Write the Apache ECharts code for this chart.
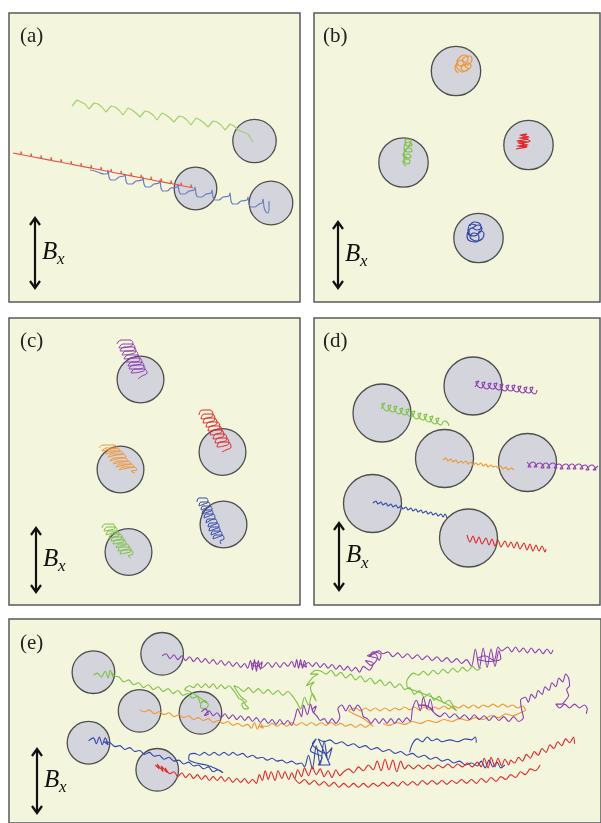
<!DOCTYPE html>
<html><head><meta charset="utf-8">
<script src="https://cdn.jsdelivr.net/npm/echarts@6/dist/echarts.min.js"></script>
<style>html,body{margin:0;padding:0;background:#fff}#c{width:601px;height:823px}</style>
</head><body><div id="c"></div>
<script>
// ---------- panel labels ----------
const panelLabels = ['(a)', '(b)', '(c)', '(d)', '(e)'];
const fieldSymbol = 'B';
const fieldSub = 'x';

// ---------- circles [cx, cy, r] in picture units ----------
const circlesA = [[254.5,141,21.7],[195.5,188.5,21.3],[271,203,21.8]];
const circlesB = [[456,71,24.7],[528.5,145,24.7],[403.5,162.5,24.7],[478.5,238,24.7]];
const circlesC = [[140.5,379.5,23.4],[222.5,452,23.4],[120.5,469.5,23.4],[223.5,524.5,23.4],[128.5,552,23.4]];
const circlesD = [[473,386,29],[382,413,29],[444.5,458.5,29],[527.5,462.5,29],[372.5,503.5,29],[468.5,538,29]];
const circlesE = [[165,655,21.7],[95,674,21.7],[142,714,21.7],[204,716,21.7],[90,747,21.7],[160,775,21.7]];

// ---------- trajectories (flat x,y lists; null = gap) ----------
// panel (a)
const aGreen = [72,106,77,100,81,102,85,104,89,109,94,103,98,104,102,107,106,112,111,106,115,107,119,110,123,115,128,108,132,110,136,113,140,117,145,111,149,112,153,115,157,120,162,113,166,115,170,118,174,122,179,116,183,117,187,120,191,125,196,118,200,120,204,123,208,127,213,121,217,122,221,125,225,130,230,124,234,126,238,130,243,132,248,134,253,142];
const aRed = [13,153,21,154.6,21,151.5,22,154.8,23,155,31,156.5,31,153.4,32,156.7,33,157,41,158.4,41,155.3,42,158.6,43,158.8,51,160.4,51,157.2,52,160.6,53,160.8,61,162.3,61,159.2,62,162.5,63,162.7,71,164.3,71,161.1,72,164.4,73,164.6,81,166.2,81,163,82,166.4,83,166.6,91,168.1,91,165,92,168.3,93,168.5,101,170,101,167,102,170.3,103,170.5,111,172,111,168.9,112,172.2,113,172.4,121,174,121,170.8,122,174.1,123,174.3,131,175.9,131,172.7,132,176.1,133,176.3,141,177.8,141,174.7,142,178,143,178.2,151,179.8,151,176.6,152,180,153,180.2,161,181.7,161,178.5,162,181.9,163,182.1,171,183.6,171,180.5,172,183.8,173,184,181,185.6,181,182.4,182,185.8,183,186,191,187.5,191,184.4,192,187.7,193,188];
const aBlue = [90,170,95,171,100,173,104,174,107,174,108,170,109,177,111,180,115,180,119,177,124,176,125,174,126,181,128,184,132,184,136,181,142,180,143,177,144,184,146,187,150,187,154,184,159,183,160,180,161,188,163,191,167,191,171,188,177,187,178,184,179,191,181,194,185,194,189,191,194,190,195,187,196,194,198,197,202,197,206,194,211,193,212,190,213,197,215,200,219,200,223,197,229,196,230,193,231,201,233,204,237,204,241,201,247,200,248,197,249,204,251,207,255,207,259,204,262,203,263,199,264,207,266,212,268,213,269,206,269,201];
// panel (b)
const bOrange = [458,73,455,68,457,63,461,60,464,63,460,66,457,62,460,57,464,55,468,58,466,62,462,61,465,57,470,56,472,60,469,64,465,66,468,69,464,71,461,68,464,65,468,63,471,66,467,70,462,72,459,70,456,66,459,64];
const bRed = [516,149,526,147,517,146,528,145,518,143,529,142,517,141,528,139,519,138,529,137,520,135,527,134,523,137,530,141,522,144,527,147,519,148];
const bGreen = [406,166,403,162,406,159,410,161,408,164,404,160,404,156,408,154,411,157,407,158,404,153,406,149,410,148,412,151,408,152,404,148,405,144,409,142,412,145,408,146,405,142,407,139,411,140,410,144,406,150,403,155,407,157];
const bBlue = [470,226,474,222,479,223,481,227,477,230,472,228,469,232,472,236,477,235,480,231,484,234,482,239,477,241,473,240,470,237,474,233,479,237,476,242,470,241,467,236,469,230,474,227,478,225,482,229,479,233,474,236,468,233,471,224,476,225];
// panel (c)
const cPurple = [117,344,121,340,130,340,133,344,128,347,119,348,123,344,132,344,135,348,130,351,120,351,124,347,133,347,136,351,131,354,122,355,126,351,135,351,138,355,133,358,124,359,128,355,137,355,140,359,135,362,126,362,130,358,139,358,142,362,137,365,128,366,132,362,141,362,144,366,139,369,129,369,133,365,142,365,145,369,140,372,131,373,135,369,144,369,147,373,142,376,138,379];
const cRed = [199,415,202,410,210,410,213,415,208,418,201,419,204,414,212,414,215,419,210,422,203,423,206,418,214,418,217,423,212,426,206,427,209,422,217,422,220,427,215,430,208,431,211,426,219,426,222,431,217,434,210,435,213,430,221,430,224,435,219,438,213,439,216,434,224,434,227,439,222,442,215,443,218,438,226,438,229,443,224,446,217,447,220,442,228,442,231,447,226,450,222,452];
const cOrange = [99,448,103,445,114,445,117,448,111,449,102,451,106,448,117,448,120,451,114,452,105,454,109,451,120,451,123,454,117,455,108,457,112,454,123,454,126,457,120,458,110,461,114,458,125,458,128,461,122,462,113,464,117,461,128,461,131,464,125,465,116,467,120,464,131,464,134,467,128,468,119,470,123,467,134,467,137,470,131,471,135,473];
const cBlue = [197,502,199,498,206,498,208,502,204,504,199,506,201,502,208,502,210,506,206,508,201,510,203,506,210,506,212,510,208,512,202,514,204,510,211,510,213,514,209,516,204,518,206,514,213,514,215,518,211,520,206,523,208,519,215,519,217,523,213,525,208,527,210,523,217,523,219,527,215,529,209,531,211,527,218,527,220,531,216,533,211,535,213,531,220,531,222,535,218,537,213,539,215,535,222,535,224,539,220,541,221,544];
const cGreen = [102,528,105,524,113,524,115,528,110,530,104,531,107,527,115,527,117,531,112,533,106,535,109,531,117,531,119,535,114,537,109,538,112,534,120,534,122,538,117,540,111,541,114,537,122,537,124,541,119,543,113,544,116,540,124,540,126,544,121,546,116,548,119,544,127,544,129,548,124,550,118,551,121,547,129,547,131,551,126,553,120,554,123,550,131,550,133,554,128,556,131,558];
// panel (d)
const dPurple1 = [475,387,479,381,476,382,481,388,485,382,482,383,487,389,491,383,488,384,493,389,497,383,494,384,499,390,503,384,500,385,505,391,509,385,506,386,511,391,515,385,512,386,517,392,521,386,518,387,523,393,527,387,524,388,529,393,533,387,530,388,535,394,537,390];
const dGreen = [381,409,385,403,382,404,387,411,391,405,388,406,393,412,397,406,394,407,399,414,403,408,400,409,405,415,409,409,406,410,411,417,415,411,412,412,417,419,421,413,418,414,423,420,427,414,424,415,429,422,433,416,430,417,435,424,439,418,436,419,441,425,444,421,447,422,449,426];
const dOrange = [443,460,446,458,448,461,451,459,453,462,456,460,458,463,461,461,463,463,466,461,468,464,471,462,473,465,476,463,478,465,481,463,483,466,486,464,488,467,491,465,493,467,496,466,498,468,501,466,503,469,506,467,508,470,511,468,514,470];
const dPurple2 = [527,462,531,467,528,467,533,462,537,467,534,467,540,463,544,468,541,468,546,463,550,468,547,468,553,463,557,468,554,468,559,464,563,469,560,469,566,464,570,469,567,469,572,464,576,469,573,469,579,464,583,469,580,469,585,465,589,470,586,470,592,465,596,470,593,470,598,466];
const dBlue = [373,503,376,501,378,504,381,502,383,505,386,503,388,506,391,504,393,507,396,505,398,508,401,506,403,509,406,507,408,510,411,508,413,511,416,509,418,512,421,510,423,513,426,511,428,514,431,512,433,515,436,513,438,516,441,514,443,517,445,514,447,518];
const dRed = [467,535,470,542,473,536,476,543,479,537,482,544,486,538,489,545,492,539,495,546,498,540,501,547,505,541,508,547,511,542,514,548,517,542,520,549,524,543,527,550,530,544,533,551,536,545,539,551,542,546,545,552,546,549];
// panel (e)
const ePurple1 = [165,657,169,655,173,660,177,656,181,661,185,657,189,662,193,658,197,663,201,659,205,664,209,660,213,665,217,661,221,666,225,662,229,667,233,663,237,668,241,664,245,669,249,665,252,670,255,662,257,672,259,661,261,673,263,662,265,671,267,663,262,668,256,666,260,664,266,670,269,668,273,664,277,669,281,664,285,669,289,664,293,668,297,663,300,669,302,661,304,670,306,661,308,670,310,662,312,669,305,665,309,667,314,664,318,668,322,664,326,669,330,665,334,670,338,666,342,671,346,667,350,672,354,668,358,673,362,669,366,674,370,668,376,672,380,665,372,662,378,667,384,660,374,657,382,655,386,662,388,656,380,653,376,658,386,652,390,655,395,653,400,658,405,654,410,659,415,655,420,660,425,656,430,661,435,657,440,662,445,658,450,663,455,659,460,664,465,660,470,665,475,661,480,668,484,650,488,670,492,649,496,669,500,650,504,668,508,652,510,660,498,663,486,660,494,657,503,662,507,648,511,652,517,648,521,653,525,648,529,653,533,649,537,654,541,649,545,654,549,650,553,655,557,650,561,655,563,651];
const eGreen = [95,677,99,675,103,679,107,673,110,680,112,672,115,679,113,674,117,678,121,679,126,684,131,682,136,687,141,685,146,690,151,687,156,692,161,689,166,694,171,691,176,696,181,693,186,698,191,696,196,701,201,699,204,706,208,703,212,708,209,712,204,710,206,704,211,706,200,698,193,694,188,692,193,688,197,690,201,686,205,690,209,686,213,690,217,686,221,691,225,687,229,691,233,688,237,692,240,696,243,701,247,703,250,708,253,711,249,712,246,707,251,704,245,699,238,688,243,690,248,694,253,690,258,695,263,691,268,696,273,692,278,697,283,693,288,698,293,694,298,699,302,705,306,712,310,700,314,708,318,696,322,704,316,690,320,684,312,688,318,680,324,676,316,676,322,672,327,673,332,676,337,672,342,678,347,674,352,680,357,676,362,682,367,678,372,684,377,680,382,686,387,682,392,688,397,684,402,690,407,686,412,692,417,690,422,697,427,693,432,700,437,696,442,703,447,699,452,706,457,703,462,710,465,714,455,707,440,700,425,694,415,690,414,684,417,678,421,675,426,677,431,673,436,677,441,672,446,676,451,671,456,675,461,670,466,674,471,669,476,673,481,668,486,672,490,669];
const eOrange = [142,713,147,715,152,713,157,717,162,715,167,718,172,716,177,720,182,718,187,721,192,719,197,723,202,721,207,724,212,722,217,726,222,724,227,727,232,725,237,729,242,727,247,730,252,728,256,732,259,726,262,733,265,727,268,732,264,730,272,730,277,727,282,730,287,727,292,730,297,726,302,729,307,726,312,729,317,726,322,729,327,726,332,729,337,726,342,729,347,727,352,730,357,728,362,731,367,728,372,731,377,728,380,730,370,722,360,717,355,714,362,711,367,714,372,711,377,714,382,711,387,714,392,711,397,714,402,711,407,713,412,710,417,713,422,710,427,713,432,710,437,713,442,710,447,712,452,709,457,712,462,709,467,711,472,708,477,711,482,708,487,711,492,708,497,710,502,707,507,710,512,707,517,710,522,708,527,711,532,709,535,713,530,716,522,719,515,717,508,721,500,719,492,723,484,721,476,724,468,722,460,725,452,723,444,726,436,724,428,727,420,725,412,728,404,726,396,729,390,727];
const ePurple2 = [205,715,209,712,212,717,208,719,213,714,217,719,221,716,225,721,229,717,233,722,237,718,241,723,245,719,249,724,253,720,257,725,261,721,265,726,269,722,273,727,277,723,281,728,285,723,289,728,293,724,297,729,300,722,303,712,307,720,309,708,313,718,316,707,319,716,322,709,318,713,323,720,326,724,330,722,334,727,338,722,342,727,346,720,344,712,348,708,352,714,356,708,360,714,364,708,368,713,370,720,374,722,378,727,382,722,386,727,390,722,394,727,398,722,402,727,406,722,410,726,414,721,418,725,420,712,424,703,428,714,431,700,435,712,438,702,441,715,433,708,426,708,437,710,443,717,448,720,453,716,458,721,463,717,468,722,473,718,478,723,483,718,488,723,493,719,498,724,503,719,508,724,513,720,518,725,523,720,528,725,533,721,531,712,530,703,535,700,538,705,541,697,545,701,548,693,552,697,555,689,559,693,562,685,566,689,569,680,573,684,576,676,579,680,580,688,577,692,579,698,576,703,572,707,566,707,570,711,575,707,580,711,585,707,590,711,595,708,598,712,597,717];
const eBlue = [90,745,95,742,98,748,101,741,104,749,107,742,110,749,106,746,112,747,117,751,122,750,127,754,132,752,137,756,142,755,147,759,152,757,157,761,162,760,167,764,172,762,177,766,182,765,187,769,192,767,197,771,202,770,207,774,212,772,217,777,222,775,227,778,220,774,210,770,200,768,192,764,193,759,198,758,203,760,208,757,213,760,218,757,223,760,228,757,233,760,237,757,242,760,247,758,252,762,257,760,262,763,267,762,272,765,277,763,282,766,287,765,292,768,297,766,302,769,307,768,310,772,314,760,318,774,322,750,326,770,330,745,334,765,338,752,332,758,318,748,322,743,316,755,328,762,324,770,336,770,324,743,330,746,336,744,342,748,348,746,354,750,360,748,366,752,372,750,378,754,384,752,390,756,396,754,402,758,408,756,414,760,420,758,426,762,432,760,438,764,444,762,450,766,456,764,462,768,468,766,474,770,480,768,486,771,490,766,494,773,498,765,502,772,506,767,510,773,514,770,null,417,757,420,748,425,743,430,746,435,741,440,745,445,743,450,746,458,744,466,746,474,743,480,744,484,741,485,747];
const eRed = [158,770,162,774,160,769,166,777,164,771,170,778,168,773,173,779,177,777,181,782,185,778,189,783,193,779,197,784,201,780,205,785,209,781,213,786,217,782,221,786,225,782,229,787,233,783,237,788,241,784,245,788,249,784,253,789,257,785,261,789,264,780,267,786,270,776,273,785,276,777,280,786,283,776,287,784,290,777,294,785,297,778,300,784,303,775,307,782,310,773,314,781,318,772,322,780,326,774,330,782,334,776,338,783,342,775,346,781,350,777,355,774,360,778,365,772,370,776,375,770,380,775,384,766,388,776,392,764,396,775,400,765,404,777,408,766,412,774,416,770,421,774,426,770,431,774,436,770,441,774,446,770,451,773,456,769,461,773,466,769,471,772,476,768,481,772,486,767,490,772,493,763,497,773,500,762,504,772,507,763,511,771,514,764,518,770,520,765,524,768,528,762,532,766,536,759,540,763,544,756,548,760,552,753,556,757,560,749,564,753,568,746,572,750,576,743,580,747,584,741,585,748,null,300,784,305,789,310,785,315,790,320,786,325,791,330,787,335,792,340,788,345,793,350,789,355,793,360,789,365,793,370,789,375,793,380,789,385,792,390,788,395,792,400,788,405,792,410,787,415,791,420,787,425,791,430,786,435,790,440,786,445,790,450,786,455,790,460,786,465,789,470,785,475,789,480,785,485,789,490,784,495,788,500,783,505,787,510,782,515,785,520,780,525,783,530,777,535,780,540,774,545,776,550,770];

// ---------- panel layout ----------
const panels = [
  {x0:9,   y0:13,  x1:300, y1:302},
  {x0:314, y0:13,  x1:600, y1:302},
  {x0:9,   y0:318, x1:300, y1:605},
  {x0:314, y0:318, x1:600, y1:605},
  {x0:9,   y0:619, x1:612, y1:830}
];
const arrows = [
  {x:35, y0:218, y1:288, lx:20,  ly:36},
  {x:338,y0:222, y1:288, lx:323, ly:36},
  {x:36, y0:528, y1:592, lx:20,  ly:341},
  {x:339,y0:523, y1:590, lx:323, ly:341},
  {x:37, y0:749, y1:813, lx:20,  ly:643}
];

const COL = {green:'#7cc242', red:'#e3262b', blue:'#3345a8', orange:'#f29530', purple:'#8d3db0'};
const COLA = {green:'#a7cf6c', red:'#e4564a', blue:'#6c7ec2'};

function pairs(flat){
  const out=[]; let i=0;
  while(i<flat.length){
    if(flat[i]===null){out.push(['-','-']); i+=1;}
    else {out.push([flat[i],flat[i+1]]); i+=2;}
  }
  return out;
}

const grids=[], xAxes=[], yAxes=[], series=[];
panels.forEach((p,i)=>{
  grids.push({left:p.x0, top:p.y0, width:p.x1-p.x0, height:p.y1-p.y0, show:true,
    backgroundColor:'#f3f5dc', borderColor:'#5a5a5a', borderWidth:1.5, containLabel:false});
  xAxes.push({type:'value', gridIndex:i, min:p.x0, max:p.x1, show:false});
  yAxes.push({type:'value', gridIndex:i, min:p.y0, max:p.y1, inverse:true, show:false});
});

function circleSeries(idx, data){
  series.push({type:'custom', xAxisIndex:idx, yAxisIndex:idx, data:data, z:2, silent:true,
    encode:{x:0, y:1},
    renderItem:function(params, api){
      const c = api.coord([api.value(0), api.value(1)]);
      const s = api.size([api.value(2), api.value(2)]);
      return {type:'circle', shape:{cx:c[0], cy:c[1], r:s[0]},
        style:{fill:'#d4d5dc', stroke:'#4e4e4e', lineWidth:1.3}};
    }});
}
function lineSeries(idx, flat, color, width, smooth){
  series.push({type:'line', xAxisIndex:idx, yAxisIndex:idx, data:pairs(flat), z:3,
    showSymbol:false, symbol:'none', smooth:smooth, connectNulls:false, silent:true,
    lineStyle:{color:color, width:width}, clip:true});
}

circleSeries(0, circlesA);
lineSeries(0, aGreen, COLA.green, 1.2, false);
lineSeries(0, aBlue, COLA.blue, 1.2, 0.3);
lineSeries(0, aRed, COLA.red, 1.1, false);

circleSeries(1, circlesB);
lineSeries(1, bOrange, COL.orange, 1.2, 0.5);
lineSeries(1, bRed, COL.red, 1.2, 0.3);
lineSeries(1, bGreen, COL.green, 1.2, 0.5);
lineSeries(1, bBlue, COL.blue, 1.2, 0.5);

circleSeries(2, circlesC);
lineSeries(2, cPurple, COL.purple, 1, 0.5);
lineSeries(2, cRed, COL.red, 1, 0.5);
lineSeries(2, cOrange, COL.orange, 1, 0.5);
lineSeries(2, cBlue, COL.blue, 1, 0.5);
lineSeries(2, cGreen, COL.green, 1, 0.5);

circleSeries(3, circlesD);
lineSeries(3, dPurple1, COL.purple, 1.1, 0.5);
lineSeries(3, dGreen, COL.green, 1.1, 0.5);
lineSeries(3, dOrange, COL.orange, 1.1, 0.3);
lineSeries(3, dPurple2, COL.purple, 1.1, 0.5);
lineSeries(3, dBlue, COL.blue, 1.1, 0.3);
lineSeries(3, dRed, COL.red, 1.1, 0.3);

circleSeries(4, circlesE);
lineSeries(4, ePurple1, COL.purple, 1.1, 0.3);
lineSeries(4, eGreen, COL.green, 1.1, 0.3);
lineSeries(4, eOrange, COL.orange, 1.1, 0.3);
lineSeries(4, ePurple2, COL.purple, 1.1, 0.3);
lineSeries(4, eBlue, COL.blue, 1.1, 0.3);
lineSeries(4, eRed, COL.red, 1.1, 0.3);

// ---------- annotations ----------
const graphic=[];
arrows.forEach((a,i)=>{
  graphic.push({type:'line', z:10, shape:{x1:a.x, y1:a.y0+1, x2:a.x, y2:a.y1-1}, style:{stroke:'#111', lineWidth:2.2}});
  graphic.push({type:'polyline', z:10, shape:{points:[[a.x-5,a.y0+7],[a.x,a.y0],[a.x+5,a.y0+7]]}, style:{stroke:'#111', lineWidth:2.2, fill:null}});
  graphic.push({type:'polyline', z:10, shape:{points:[[a.x-5,a.y1-7],[a.x,a.y1],[a.x+5,a.y1-7]]}, style:{stroke:'#111', lineWidth:2.2, fill:null}});
  const mid=(a.y0+a.y1)/2;
  graphic.push({type:'text', z:10, style:{text:fieldSymbol, x:a.x+7, y:mid-1, font:'italic 25px "Liberation Serif", serif', fill:'#111', textAlign:'left', textVerticalAlign:'middle', align:'left', verticalAlign:'middle'}});
  graphic.push({type:'text', z:10, style:{text:fieldSub, x:a.x+22, y:mid+7, font:'italic 17px "Liberation Serif", serif', fill:'#111', textAlign:'left', textVerticalAlign:'middle', align:'left', verticalAlign:'middle'}});
  graphic.push({type:'text', z:10, style:{text:panelLabels[i], x:a.lx, y:a.ly, font:'21px "Liberation Serif", serif', fill:'#222', textAlign:'left', textVerticalAlign:'middle', align:'left', verticalAlign:'middle'}});
});

const chart = echarts.init(document.getElementById('c'), null, {renderer:'canvas'});
chart.setOption({animation:false, backgroundColor:'#ffffff', grid:grids, xAxis:xAxes, yAxis:yAxes, series:series, graphic:graphic});
</script></body></html>
